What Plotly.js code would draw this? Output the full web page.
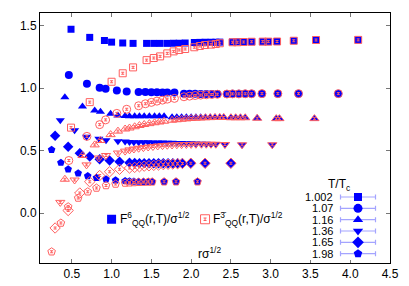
<!DOCTYPE html>
<html><head><meta charset="utf-8">
<script src="https://cdn.plot.ly/plotly-3.0.1.min.js"></script>
<style>html,body{margin:0;padding:0;background:#fff}#chart{width:409px;height:286px}</style>
</head><body><div id="chart"></div>
<script>
// ---- data ----
const tempLabels = ["1.002","1.07","1.16","1.36","1.65","1.98"];

const x1002 = [0.49,0.725,0.91,1.0,1.14,1.27,1.44,1.53,1.61,1.70,1.78,1.85,1.925,2.04,2.11,2.175,2.25,2.31,2.36,2.52,2.58,2.66,2.76,2.9,2.97,3.08,3.29,3.57,4.1];
const s1002 = [1.47,1.405,1.38,1.367,1.36,1.357,1.357,1.357,1.357,1.357,1.358,1.358,1.36,1.364,1.365,1.366,1.366,1.366,1.367,1.368,1.37,1.37,1.37,1.371,1.371,1.372,1.378,1.384,1.385];
const a1002 = [0.683,0.887,null,1.05,1.118,1.165,1.223,1.24,1.253,1.277,1.293,1.304,1.312,1.326,1.336,1.344,1.347,1.352,1.358,1.366,1.366,1.368,1.37,1.371,1.371,1.372,1.378,1.384,1.385];

const x107 = [0.4625,0.69,0.85,0.925,1.066,1.19,1.34,1.425,1.5,1.57,1.64,1.70,1.79,1.91,1.98,2.05,2.12,2.19,2.26,2.33,2.45,2.52,2.6,2.68,2.76,2.89,3.09,3.35,3.85];
const s107 = [1.105,1.035,1.003,0.995,0.981,0.973,0.968,0.968,0.967,0.966,0.965,0.965,0.964,0.955,0.954,0.954,0.953,0.953,0.953,0.953,0.953,0.954,0.954,0.954,0.954,0.955,0.955,0.955,0.955];
const a107 = [0.42,0.613,0.707,0.745,0.797,0.83,0.858,0.874,0.885,0.895,0.903,0.911,0.917,0.93,0.935,0.94,0.943,0.946,0.948,0.95,0.952,0.953,0.953,0.954,0.954,0.955,0.955,0.955,0.955];

const x116 = [0.4125,0.634,0.7875,0.86,0.9875,1.08,1.17,1.225,1.29,1.35,1.41,1.475,1.54,1.6,1.66,1.76,1.82,1.88,1.94,2.0,2.06,2.12,2.18,2.24,2.3,2.36,2.41,2.5,2.56,2.62,2.68,2.83,3.07,3.11,3.55];
const s116 = [0.927,0.853,0.821,0.81,0.795,0.78,0.776,0.774,0.774,0.774,0.774,0.774,0.774,0.774,0.774,0.766,0.766,0.766,0.766,0.766,0.766,0.766,0.764,0.764,0.764,0.764,0.764,0.762,0.762,0.762,0.762,0.758,0.755,0.755,0.755];
const a116 = [0.27,0.46,0.545,0.58,0.627,0.655,0.672,0.68,0.69,0.70,0.708,0.715,0.722,0.728,0.734,0.742,0.746,0.75,0.753,0.756,0.758,0.76,0.762,0.763,0.764,0.764,0.764,0.762,0.762,0.762,0.762,0.758,0.755,0.755,0.755];

const x136 = [0.355,0.535,0.685,0.84,0.93,1.08,1.17,1.225,1.28,1.34,1.4,1.46,1.52,1.58,1.64,1.7,1.76,1.82,1.88,1.94,2.0,2.06,2.13,2.19,2.25,2.31,2.425,2.64,3.02];
const s136 = [0.742,0.663,0.61,0.595,0.582,0.575,0.572,0.568,0.567,0.567,0.566,0.566,0.565,0.565,0.564,0.563,0.562,0.561,0.56,0.559,0.558,0.557,0.555,0.554,0.553,0.552,0.548,0.546,0.546];
const a136 = [0.085,0.264,0.385,0.44,0.46,0.48,0.495,0.505,0.512,0.518,0.523,0.528,0.532,0.536,0.539,0.542,0.544,0.546,0.547,0.548,0.549,0.55,0.55,0.55,0.55,0.55,0.548,0.546,0.546];

const x165 = [0.29,0.454,0.6,0.725,0.85,0.975,1.1,1.225,1.29,1.35,1.41,1.47,1.53,1.59,1.65,1.71,1.77,1.83,1.89,1.996,2.175,2.5];
const s165 = [0.618,0.53,0.479,0.452,0.43,0.42,0.411,0.403,0.4,0.399,0.399,0.398,0.398,0.398,0.398,0.398,0.398,0.398,0.398,0.398,0.398,0.398];
const a165 = [-0.12,0.02,0.16,0.25,0.3,0.33,0.35,0.36,0.365,0.37,0.375,0.378,0.381,0.384,0.387,0.39,0.392,0.394,0.396,0.398,0.398,0.398];

const x198 = [0.246,0.3625,0.454,0.58,0.7,0.81,0.93,1.05,1.17,1.225,1.28,1.34,1.4,1.46,1.51,1.66,1.81,2.08];
const s198 = [0.506,0.403,0.35,0.318,0.296,0.282,0.27,0.262,0.257,0.254,0.252,0.251,0.25,0.25,0.25,0.25,0.25,0.25];
const a198 = [-0.31,-0.08,0.05,0.12,0.17,0.2,0.22,0.232,0.24,0.242,0.244,0.246,0.247,0.248,0.249,0.25,0.25,0.25];

// ---- styles ----
const BLUE = "#0000ff";
const RED = "rgb(255,95,95)";
const FONT = "Liberation Sans, Arial, sans-serif";
const FS = 12;
const LFS = 11;
const symbols = ["square","circle","triangle-up","triangle-down","diamond","pentagon"];
const sizes = [7,8,8,8,8,8];
const sets = [[x1002,s1002,a1002],[x107,s107,a107],[x116,s116,a116],[x136,s136,a136],[x165,s165,a165],[x198,s198,a198]];

const traces = [];
sets.forEach((d,i)=>{
  traces.push({type:"scatter",mode:"markers",x:d[0],y:d[1],xaxis:"x",yaxis:"y",
    marker:{symbol:symbols[i],size:sizes[i],color:BLUE,line:{width:0}},hoverinfo:"skip"});
});
sets.forEach((d,i)=>{
  traces.push({type:"scatter",mode:"markers",x:d[0],y:d[2],xaxis:"x",yaxis:"y",
    marker:{symbol:symbols[i]+"-open",size:sizes[i],color:RED,line:{width:1,color:RED}},
    error_y:{type:"constant",value:0.008,thickness:1,width:1.5,color:RED},hoverinfo:"skip"});
});
// in-plot key for the two kinds of markers
traces.push({type:"scatter",mode:"markers",x:[1.0],y:[-0.05],marker:{symbol:"square",size:9,color:BLUE},hoverinfo:"skip"});
traces.push({type:"scatter",mode:"markers",x:[2.175],y:[-0.05],marker:{symbol:"square-open",size:9,color:RED,line:{width:1,color:RED}},
  error_y:{type:"constant",value:0.01,thickness:1,width:1.5,color:RED},hoverinfo:"skip"});

// legend (T/Tc) drawn on its own small axes
const legRows = tempLabels.map((_,i)=>i);
tempLabels.forEach((lab,i)=>{
  traces.push({type:"scatter",mode:"markers",x:[58],y:[legRows[i]],xaxis:"x2",yaxis:"y2",
    marker:{symbol:symbols[i],size:sizes[i]+1,color:BLUE},
    error_x:{type:"constant",value:17.5,thickness:1.2,width:2.5,color:"rgba(90,90,255,0.55)"},hoverinfo:"skip"});
});

const annotations = [
  {xref:"x",yref:"y",x:1.075,y:-0.05,xanchor:"left",yanchor:"middle",showarrow:false,
   text:"F<sup>6</sup><sub>QQ</sub>(r,T)/σ<sup>1/2</sup>",font:{family:FONT,size:FS,color:"#000"}},
  {xref:"x",yref:"y",x:2.255,y:-0.05,xanchor:"left",yanchor:"middle",showarrow:false,
   text:"F<sup>3\u0304</sup><sub>QQ</sub>(r,T)/σ<sup>1/2</sup>",font:{family:FONT,size:FS,color:"#000"}},
  {xref:"x",yref:"y",x:2.225,y:-0.32,xanchor:"center",yanchor:"middle",showarrow:false,
   text:"rσ<sup>1/2</sup>",font:{family:FONT,size:FS,color:"#000"}},
  {xref:"x2",yref:"y2",x:39,y:-1.05,xanchor:"center",yanchor:"middle",showarrow:false,
   text:"T/T<sub>c</sub>",font:{family:FONT,size:FS,color:"#000"}}
];
tempLabels.forEach((lab,i)=>{
  annotations.push({xref:"x2",yref:"y2",x:35,y:legRows[i],xanchor:"right",yanchor:"middle",showarrow:false,
    text:lab,font:{family:FONT,size:LFS,color:"#000"}});
});

const layout = {
  width:409,height:286,
  margin:{l:40,r:19,t:13,b:23},
  paper_bgcolor:"#fff",plot_bgcolor:"#fff",
  showlegend:false,
  font:{family:FONT,size:FS,color:"#000"},
  xaxis:{range:[0.1,4.5],dtick:0.5,tick0:0,tickformat:".1f",ticks:"inside",ticklen:4,tickcolor:"#777",
    showline:true,linecolor:"#000",linewidth:1,mirror:"allticks",showgrid:false,zeroline:false,
    tickfont:{family:FONT,size:FS}},
  yaxis:{range:[-0.4,1.6],dtick:0.5,tick0:0,tickformat:".1f",ticks:"inside",ticklen:4,tickcolor:"#777",
    showline:true,linecolor:"#000",linewidth:1,mirror:"allticks",showgrid:false,zeroline:false,
    tickfont:{family:FONT,size:FS}},
  xaxis2:{domain:[(300-40)/350,(385-40)/350],range:[0,85],anchor:"y2",visible:false,fixedrange:true},
  yaxis2:{domain:[(263-260)/250,(263-180)/250],range:[5.56,-1.5],anchor:"x2",visible:false,fixedrange:true},
  annotations:annotations
};
Plotly.newPlot("chart",traces,layout,{staticPlot:true,displayModeBar:false});
</script>
</body></html>
